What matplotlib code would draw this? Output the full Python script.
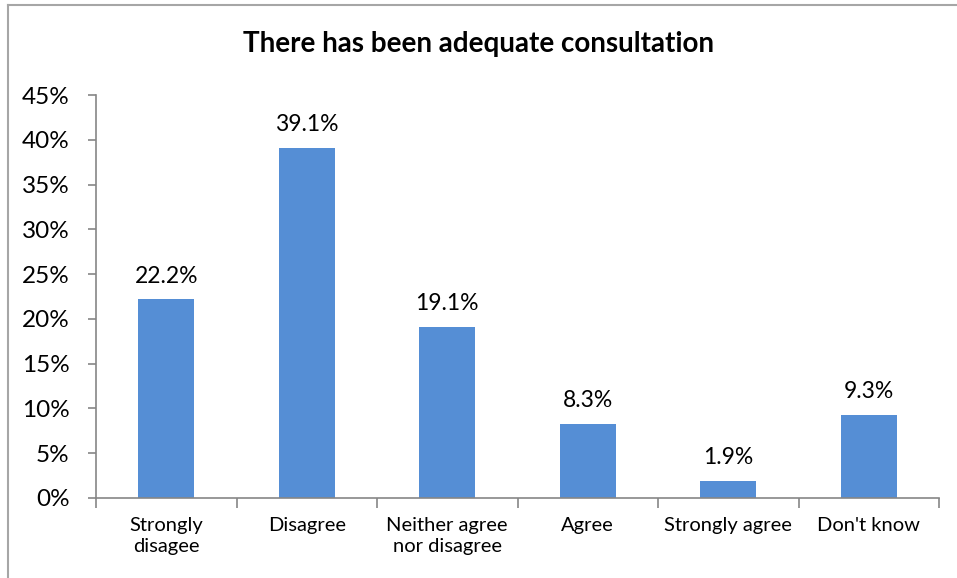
import matplotlib
matplotlib.use("Agg")
import matplotlib.pyplot as plt
from matplotlib.lines import Line2D
import numpy as np

categories = ["Strongly\ndisagee", "Disagree", "Neither agree\nnor disagree", "Agree", "Strongly agree", "Don't know"]
values = [22.2, 39.1, 19.1, 8.3, 1.9, 9.3]
yticks = [0, 5, 10, 15, 20, 25, 30, 35, 40, 45]
title = "There has been adequate consultation"

plt.rcParams['font.family'] = ['Lato', 'DejaVu Sans']

W, H = 957, 578
fig = plt.figure(figsize=(W/100, H/100), dpi=100)
ax = fig.add_axes([96/W, 1-498/H, (939-96)/W, (498-95)/H])

x = np.arange(len(categories))
ax.bar(x, values, width=0.4, color="#558ED5", zorder=2)
for xi, v in zip(x, values):
    ax.annotate(f"{v:.1f}%", (xi, v), xytext=(0, 9), textcoords="offset points",
                ha="center", va="bottom", fontsize=16.5, color="black")

ax.set_xlim(-0.5, len(categories)-0.5)
ax.set_ylim(0, 45)
ax.set_yticks(yticks)
ax.set_yticklabels([f"{t}%" for t in yticks], fontsize=17.5)
ax.set_xticks(x)
ax.set_xticklabels(categories, fontsize=14.5, linespacing=1.25)
ax.tick_params(axis='x', length=0, pad=14)
ax.tick_params(axis='y', length=6, color="#868686", width=1.2, pad=13)
# category boundary ticks
ax.set_xticks(np.arange(-0.5, len(categories), 1), minor=True)
ax.tick_params(axis='x', which='minor', length=7, color="#868686", width=1.2, direction='out')

for s in ["top", "right"]:
    ax.spines[s].set_visible(False)
for s in ["left", "bottom"]:
    ax.spines[s].set_color("#868686")
    ax.spines[s].set_linewidth(1.2)

fig.text(0.5, 1-44/H, title, ha="center", va="center", fontsize=20, fontweight="bold")

# chart border (left and top)
fig.add_artist(Line2D([8/W, 8/W], [0, 1-5/H], color="#A6A6A6", lw=1.5, transform=fig.transFigure))
fig.add_artist(Line2D([8/W, 1], [1-5/H, 1-5/H], color="#A6A6A6", lw=1.5, transform=fig.transFigure))

fig.savefig("out.png", dpi=100)
